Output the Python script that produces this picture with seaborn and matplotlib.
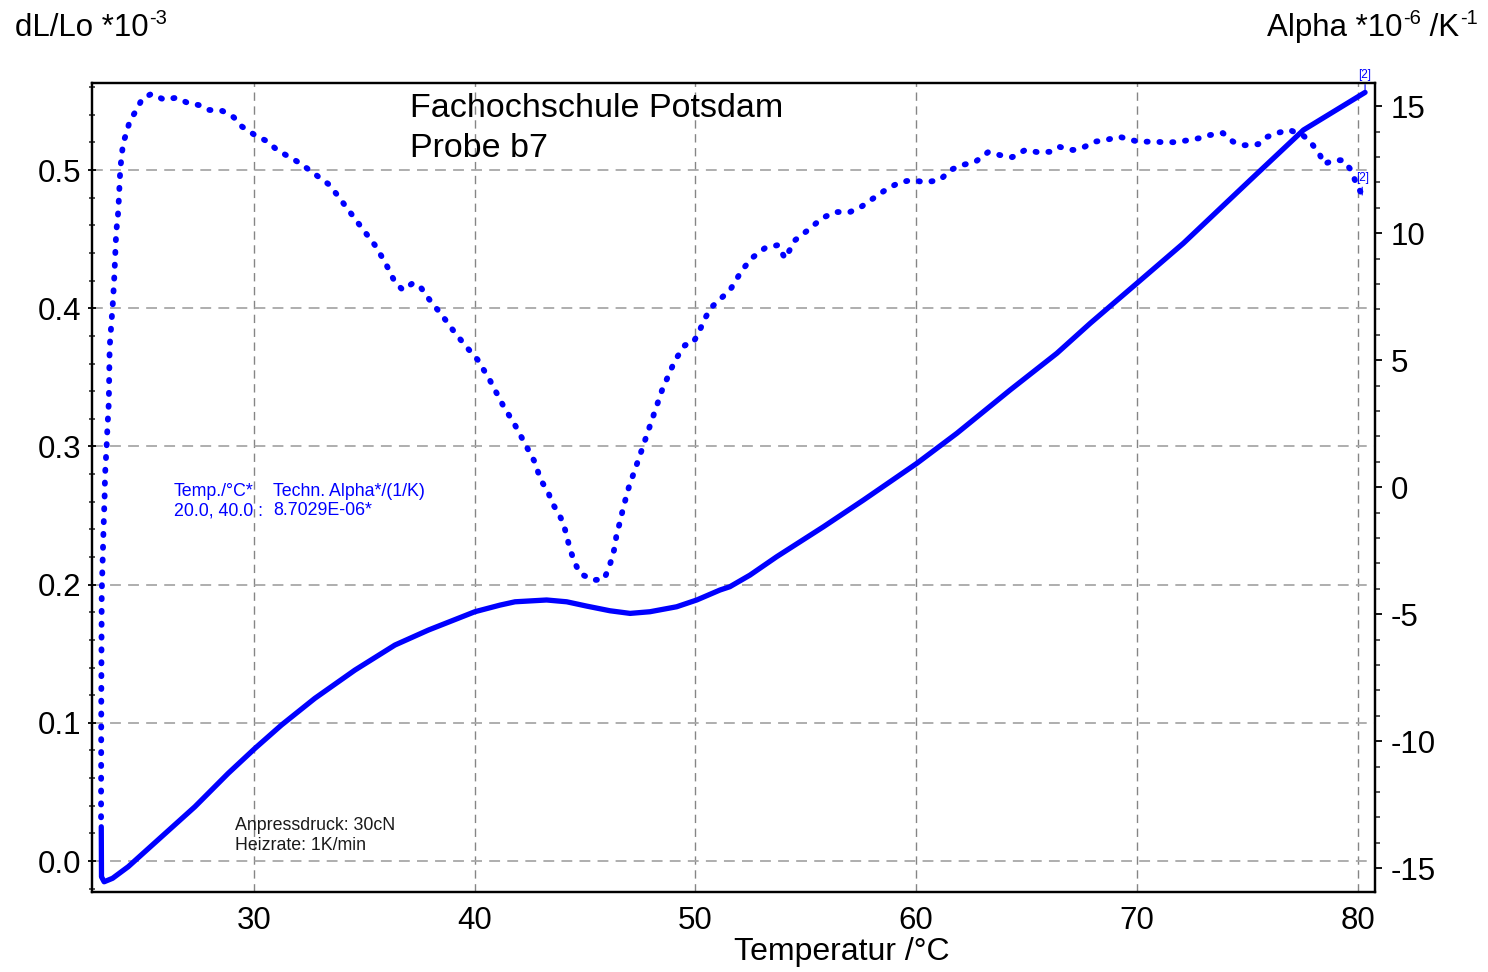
import seaborn as sns
import matplotlib
matplotlib.use("Agg")
import matplotlib.pyplot as plt
from matplotlib.ticker import MultipleLocator

# dL/Lo *10^-3 curve (left axis)
temp_dl = [23.09, 23.10, 23.22, 23.60, 24.31, 25.82, 27.33, 28.84, 30.05, 31.25,
           32.76, 34.58, 36.39, 37.90, 40.01, 41.15, 41.83, 43.26, 44.17, 45.07,
           46.13, 47.04, 47.94, 49.15, 50.06, 51.11, 51.56, 52.47, 53.68, 55.80,
           57.61, 60.03, 61.84, 64.25, 66.37, 67.88, 69.99, 72.10, 75.13, 77.54,
           80.33]
dl_lo = [0.0248, -0.0114, -0.0150, -0.0125, -0.0041, 0.0176, 0.0393, 0.0635, 0.0815, 0.0984,
         0.1177, 0.1382, 0.1563, 0.1671, 0.1804, 0.1852, 0.1876, 0.1889, 0.1876, 0.1845,
         0.1811, 0.1792, 0.1804, 0.1840, 0.1889, 0.1961, 0.1985, 0.2069, 0.2202, 0.2419,
         0.2612, 0.2878, 0.3095, 0.3408, 0.3674, 0.3891, 0.4180, 0.4470, 0.4928, 0.5290,
         0.5562]

# techn. alpha *10^-6 /K (right axis)
temp_alpha = [23.08, 23.09, 23.11, 23.14, 23.17, 23.20, 23.24, 23.26, 23.33, 23.37,
              23.43, 23.47, 23.55, 23.62, 23.68, 23.75, 23.78, 23.84, 23.87, 23.90,
              23.92, 23.96, 24.02, 24.08, 24.23, 24.38, 24.71, 24.94, 25.36, 25.92,
              26.50, 27.02, 27.51, 27.97, 28.58, 29.09, 29.47, 30.03, 30.59, 31.06,
              32.08, 33.44, 34.12, 34.80, 35.48, 35.94, 36.39, 36.75, 37.20, 37.52,
              37.97, 38.52, 39.02, 39.56, 40.15, 40.69, 41.28, 41.83, 42.32, 42.73,
              42.99, 43.31, 43.52, 43.79, 44.02, 44.17, 44.32, 44.55, 44.77, 45.37,
              45.86, 46.05, 46.23, 46.36, 46.43, 46.58, 46.70, 46.84, 46.99, 47.49,
              48.03, 48.49, 49.08, 49.53, 49.88, 50.16, 50.39, 50.69, 51.07, 51.57,
              52.11, 52.56, 53.15, 53.74, 54.06, 54.51, 55.10, 55.74, 56.33, 57.00,
              57.55, 58.14, 58.73, 59.27, 59.81, 60.40, 61.08, 61.54, 62.08, 62.67,
              63.26, 63.80, 64.35, 64.93, 65.48, 66.04, 66.47, 67.10, 67.63, 68.09,
              68.54, 69.22, 70.05, 70.70, 71.21, 71.78, 72.33, 72.84, 73.30, 73.89,
              74.35, 74.88, 75.49, 75.87, 76.39, 76.92, 77.56, 77.97, 78.29, 78.47,
              78.92, 79.33, 79.70, 79.92, 80.20]
alpha = [-13.0, -8.5, -4.17, -3.27, -2.40, -1.42, -0.43, 0.47, 1.57, 2.36,
         3.31, 5.51, 6.46, 7.32, 8.27, 9.72, 10.16, 10.63, 11.06, 11.54,
         12.00, 12.60, 13.10, 13.56, 13.93, 14.42, 14.88, 15.29, 15.48, 15.26,
         15.33, 15.12, 15.04, 14.85, 14.81, 14.56, 14.19, 13.87, 13.62, 13.27,
         12.76, 11.89, 11.10, 10.31, 9.53, 8.86, 8.07, 7.76, 8.03, 7.91,
         7.36, 6.77, 6.18, 5.59, 5.00, 4.21, 3.23, 2.44, 1.65, 0.98,
         0.28, -0.15, -0.64, -1.01, -1.43, -1.92, -2.45, -3.00, -3.40, -3.66,
         -3.63, -3.24, -2.78, -2.31, -1.85, -1.39, -0.93, -0.46, 0.01, 1.26,
         2.64, 3.82, 5.00, 5.59, 5.66, 6.10, 6.57, 7.05, 7.36, 7.76,
         8.54, 9.02, 9.41, 9.53, 9.00, 9.72, 10.12, 10.59, 10.83, 10.83,
         11.06, 11.42, 11.77, 12.00, 12.09, 12.00, 12.09, 12.48, 12.68, 12.80,
         13.19, 13.07, 12.99, 13.27, 13.19, 13.20, 13.40, 13.27, 13.40, 13.60,
         13.66, 13.79, 13.60, 13.60, 13.58, 13.58, 13.66, 13.74, 13.86, 13.94,
         13.60, 13.46, 13.50, 13.78, 13.95, 14.06, 13.82, 13.46, 13.07, 12.72,
         12.87, 12.87, 12.48, 11.97, 11.50]

x_ticks = [30, 40, 50, 60, 70, 80]
left_ticks = [0.0, 0.1, 0.2, 0.3, 0.4, 0.5]
right_ticks = [-15, -10, -5, 0, 5, 10, 15]

sns.set_style("white")
plt.rcParams["font.family"] = ["Liberation Sans", "DejaVu Sans"]
plt.rcParams["axes.unicode_minus"] = False
plt.rcParams["text.color"] = "black"

blue = "#0000ff"
W, H = 1488, 972
fig = plt.figure(figsize=(W / 100, H / 100), dpi=100)
ax = fig.add_axes([92 / W, 1 - 892 / H, (1375 - 92) / W, (892 - 83) / H])
ax2 = ax.twinx()

sns.lineplot(x=temp_dl, y=dl_lo, ax=ax, color=blue, lw=3.8, sort=False,
             estimator=None, solid_capstyle="round", solid_joinstyle="round")
sns.lineplot(x=temp_alpha, y=alpha, ax=ax2, color=blue, lw=4.2, sort=False,
             estimator=None, linestyle=(0, (0.2, 2.0)), dash_capstyle="round")

ax.set_xlim(22.67, 80.78)
ax.set_ylim(-0.0224, 0.563)
ax2.set_ylim(-15.94, 15.91)

ax.set_xticks(x_ticks)
ax.set_yticks(left_ticks)
ax2.set_yticks(right_ticks)
ax.xaxis.set_minor_locator(MultipleLocator(2))
ax.yaxis.set_minor_locator(MultipleLocator(0.02))
ax2.yaxis.set_minor_locator(MultipleLocator(1))
ax.set_yticklabels([f"{v:.1f}" for v in left_ticks])
ax2.set_yticklabels([str(v) for v in right_ticks])

ax.set_xlabel("")
ax.set_ylabel("")
ax2.set_ylabel("")

for a in (ax, ax2):
    for s in a.spines.values():
        s.set_linewidth(1.6)
        s.set_color("black")

ax.tick_params(axis="x", which="major", direction="out", length=5, width=1.3,
               labelsize=22.5, pad=5, colors="black")
ax.tick_params(axis="x", which="minor", direction="out", length=3.5, width=1.1)
ax.tick_params(axis="y", which="major", direction="inout", length=6, width=1.3,
               labelsize=22.5, pad=5, colors="black")
ax.tick_params(axis="y", which="minor", direction="inout", length=5, width=1.1)
ax2.tick_params(axis="y", which="major", direction="out", length=5, width=1.3,
                labelsize=22.5, pad=6, colors="black")
ax2.tick_params(axis="y", which="minor", direction="out", length=3.5, width=1.1)

ax.grid(True, which="major", axis="y", color="#a8a8a8", lw=1.3, ls=(0, (6, 4)))
ax.grid(True, which="major", axis="x", color="#858585", lw=1.0, ls=(0, (6, 4)))
ax.set_axisbelow(True)

# top-left axis title, superscript chained on as its own text (keeps the plain hyphen)
t1 = fig.text(15 / W, 1 - 36 / H, "dL/Lo *10", fontsize=22.5, va="baseline")
ax.annotate("-3", xy=(1, 1), xycoords=t1, xytext=(0.5, 3), textcoords="offset points",
            ha="left", va="top", fontsize=14.5, annotation_clip=False)

# top-right axis title
r1 = fig.text(1267 / W, 1 - 36 / H, "Alpha *10", fontsize=22.5, va="baseline")
r2 = ax.annotate("-6", xy=(1, 1), xycoords=r1, xytext=(0.5, 3), textcoords="offset points",
                 ha="left", va="top", fontsize=14.5, annotation_clip=False)
r3 = ax.annotate(" /K", xy=(1, 0), xycoords=(r2, r1), ha="left", va="bottom",
                 fontsize=22.5, annotation_clip=False)
ax.annotate("-1", xy=(1, 1), xycoords=r3, xytext=(0.5, 3), textcoords="offset points",
            ha="left", va="top", fontsize=14.5, annotation_clip=False)

fig.text(842 / W, 1 - 960 / H, "Temperatur /°C", fontsize=23, ha="center",
         va="baseline")

fig.text(410 / W, 1 - 117 / H, "Fachochschule Potsdam", fontsize=24.5, va="baseline")
fig.text(410 / W, 1 - 157 / H, "Probe b7", fontsize=24.5, va="baseline")

fig.text(174 / W, 1 - 496 / H, "Temp./°C*", fontsize=12.8, color=blue, va="baseline")
fig.text(273 / W, 1 - 496 / H, "Techn. Alpha*/(1/K)", fontsize=12.8, color=blue,
         va="baseline")
fig.text(174 / W, 1 - 515 / H, "20.0, 40.0 :", fontsize=12.8, color=blue, va="baseline")
fig.text(273 / W, 1 - 515 / H, "8.7029E-06*", fontsize=12.8, color=blue, va="baseline")

fig.text(235 / W, 1 - 830 / H, "Anpressdruck: 30cN", fontsize=12.8, color="#1a1a1a",
         va="baseline")
fig.text(235 / W, 1 - 850 / H, "Heizrate: 1K/min", fontsize=12.8, color="#1a1a1a",
         va="baseline")

# curve end markers
ax.annotate("[2]", xy=(temp_dl[-1], dl_lo[-1]), xytext=(0, 8), textcoords="offset points",
            ha="center", va="bottom", fontsize=8.5, color=blue,
            arrowprops=dict(arrowstyle="-", color=blue, lw=0.8, shrinkA=0, shrinkB=0))
ax2.annotate("[2]", xy=(temp_alpha[-1], alpha[-1]), xytext=(0, 8), textcoords="offset points",
             ha="center", va="bottom", fontsize=8.5, color=blue,
             arrowprops=dict(arrowstyle="-", color=blue, lw=0.8, shrinkA=0, shrinkB=0))

fig.savefig("out.png", dpi=100)
